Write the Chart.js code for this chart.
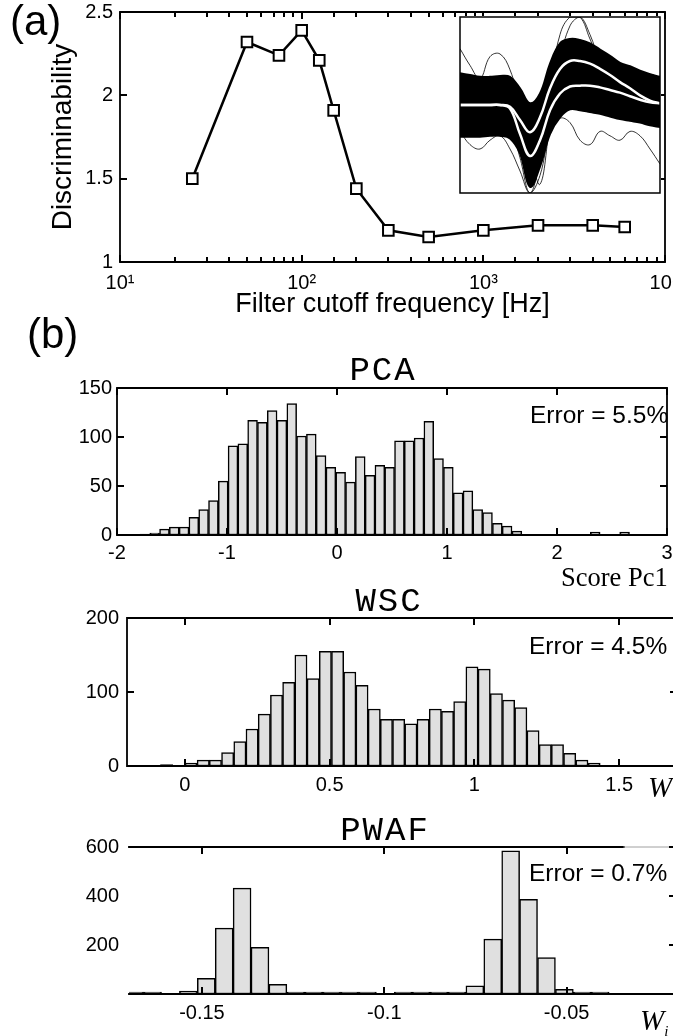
<!DOCTYPE html>
<html>
<head>
<meta charset="utf-8">
<script src="https://cdn.jsdelivr.net/npm/chart.js@4.4.0/dist/chart.umd.min.js"></script>
<style>
  html, body { margin: 0; padding: 0; width: 673px; height: 1036px; overflow: hidden; background: #fff; }
  canvas { position: absolute; }
  .txt { position: absolute; white-space: nowrap; color: #000; line-height: 1; font-family: 'Liberation Sans', Arial, sans-serif; }
  .ttl { font-family: 'Liberation Mono', 'Courier New', monospace; font-size: 34px; letter-spacing: 2px; transform: translateX(-50%); }
  .err { font-size: 24.5px; }
  .serif { font-family: 'Liberation Serif', 'Times New Roman', serif; }
  .wi { font-family: 'Liberation Serif', 'Times New Roman', serif; font-style: italic; font-size: 29px; }
  .wi sub { font-size: 15px; vertical-align: -6px; }
</style>
</head>
<body>
<canvas id="freqChart" width="700" height="330" style="left:0;top:0"></canvas>
<canvas id="insetChart" width="202" height="178" style="left:459px;top:16px;background:#fff"></canvas>
<canvas id="pcaChart" width="700" height="230" style="left:0;top:340px"></canvas>
<canvas id="wscChart" width="700" height="230" style="left:0;top:570px"></canvas>
<canvas id="pwafChart" width="700" height="236" style="left:0;top:800px"></canvas>

<div class="txt" style="left:10px;top:0px;font-size:42px">(a)</div>
<div class="txt" style="left:27px;top:313px;font-size:42px">(b)</div>
<div class="txt ttl" style="left:383px;top:354px">PCA</div>
<div class="txt ttl" style="left:389px;top:585px">WSC</div>
<div class="txt ttl" style="left:385px;top:814px">PWAF</div>
<div class="txt err" style="left:530px;top:403px">Error = 5.5%</div>
<div class="txt err" style="left:529px;top:634px">Error = 4.5%</div>
<div class="txt err" style="left:529px;top:861px">Error = 0.7%</div>
<div class="txt serif" style="left:561px;top:564px;font-size:26.5px">Score Pc1</div>
<div class="txt wi" style="left:648px;top:773px">W<sub>i</sub></div>
<div class="txt wi" style="left:640px;top:1006px">W<sub>i</sub></div>

<script>
// (a) discriminability against filter cutoff
const cutoffHz = [25, 50, 75, 100, 125, 150, 200, 300, 500, 1000, 2000, 4000, 6000];
const discrim = [1.50, 2.32, 2.24, 2.39, 2.21, 1.91, 1.44, 1.19, 1.15, 1.19, 1.22, 1.22, 1.21];
const discrimTicks = [1, 1.5, 2, 2.5];
const discrimTickLabels = ['1', '1.5', '2', '2.5'];
const freqTickValues = [10, 100, 1000, 10000];
const freqTickLabels = ['10\u00b9', '10\u00b2', '10\u00b3', '10\u2074'];

// inset: spike waveforms (band edges, two mean shapes, a few outlier traces)
const insetSamples = [0, 1, 2, 3, 4, 5, 6, 7, 8, 9, 10, 11, 12, 13, 14, 15, 16, 17, 18, 19, 20];
const spikeUpper = [0.36, 0.34, 0.32, 0.32, 0.33, 0.32, 0.19, 0.02, 0.13, 0.47, 0.70, 0.75, 0.74, 0.70, 0.63, 0.56, 0.48, 0.44, 0.39, 0.35, 0.32];
const spikeLower = [-0.36, -0.36, -0.36, -0.35, -0.35, -0.38, -0.55, -0.93, -0.70, -0.33, -0.14, -0.05, -0.06, -0.08, -0.10, -0.13, -0.16, -0.18, -0.20, -0.23, -0.25];
const meanA = [0, 0, 0, 0, 0, -0.02, -0.17, -0.31, -0.14, 0.19, 0.41, 0.50, 0.50, 0.47, 0.41, 0.34, 0.26, 0.19, 0.11, 0.05, 0.02];
const meanB = [0, 0, 0, 0, 0, -0.04, -0.33, -0.58, -0.40, -0.06, 0.13, 0.21, 0.22, 0.22, 0.20, 0.17, 0.14, 0.10, 0.06, 0.03, 0.02];
const spikeOutHigh = [0.15, 0.2, 0.15, 0.1, 0.05, -0.2, -0.6, -1.0, -0.6, 0.2, 0.8, 1.0, 1.0, 0.75, 0.5, 0.4, 0.35, 0.3, 0.25, 0.2, 0.15];
const spikeOutLeft = [0.64, 0.45, 0.3, 0.55, 0.58, 0.4, 0.0, -0.5, -0.9, -0.2, 0.5, 0.9, 1.0, 0.8, 0.5, 0.35, 0.3, 0.28, 0.3, 0.35, 0.3];
const spikeOutLow = [-0.3, -0.45, -0.5, -0.4, -0.35, -0.5, -0.75, -1.0, -0.8, -0.3, -0.15, -0.2, -0.4, -0.45, -0.3, -0.35, -0.4, -0.3, -0.35, -0.5, -0.67];

// (b) PCA histogram
const pcaBinCenters = [-1.7465, -1.6575, -1.5685, -1.4795, -1.3905, -1.3015, -1.2125, -1.1235, -1.0345, -0.9455,
  -0.8565, -0.7675, -0.6785, -0.5895, -0.5005, -0.4115, -0.3225, -0.2335, -0.1445, -0.0555,
  0.0335, 0.1225, 0.2115, 0.3005, 0.3895, 0.4785, 0.5675, 0.6565, 0.7455, 0.8345,
  0.9235, 1.0125, 1.1015, 1.1905, 1.2795, 1.3685, 1.4575, 1.5465, 1.6355, 1.7245,
  1.8135, 1.9025, 1.9915, 2.0805, 2.1695, 2.2585, 2.3475, 2.4365, 2.5255, 2.6145];
const pcaCounts = [1, 2, 6, 8, 8, 18, 26, 35, 55, 91,
  93, 117, 115, 127, 117, 134, 101, 103, 81, 69,
  64, 54, 80, 61, 71, 69, 96, 96, 99, 116,
  78, 69, 43, 45, 26, 23, 12, 9, 4, 0,
  0, 0, 0, 0, 0, 0, 3, 0, 0, 3];
const pcaXTicks = [-2, -1, 0, 1, 2, 3];
const pcaXLabels = ['-2', '-1', '0', '1', '2', '3'];
const pcaYTicks = [0, 50, 100, 150];
const pcaYLabels = ['0', '50', '100', '150'];

// WSC histogram
const wscBinCenters = [-0.0633, -0.0211, 0.0211, 0.0633, 0.1055, 0.1477, 0.1899, 0.2321, 0.2743, 0.3165,
  0.3587, 0.4009, 0.4431, 0.4853, 0.5275, 0.5697, 0.6119, 0.6541, 0.6963, 0.7385,
  0.7807, 0.8229, 0.8651, 0.9073, 0.9495, 0.9917, 1.0339, 1.0761, 1.1183, 1.1605,
  1.2027, 1.2449, 1.2871, 1.3293, 1.3715, 1.4137, 1.4559, 1.4981];
const wscCounts = [2, 0, 4, 8, 8, 18, 33, 50, 70, 96,
  113, 150, 118, 155, 155, 127, 109, 77, 63, 63,
  57, 63, 77, 74, 87, 134, 131, 98, 89, 79,
  48, 29, 29, 17, 8, 4, 1, 1];
const wscXTicks = [0, 0.5, 1, 1.5];
const wscXLabels = ['0', '0.5', '1', '1.5'];
const wscYTicks = [0, 100, 200];
const wscYLabels = ['0', '100', '200'];

// PWAF histogram
const pwafBinCenters = [-0.16845, -0.16354, -0.15863, -0.15372, -0.14881, -0.14390, -0.13899, -0.13408, -0.12917,
  -0.12426, -0.11935, -0.11444, -0.10953, -0.10462, -0.09971, -0.09480, -0.08989, -0.08498,
  -0.08007, -0.07516, -0.07025, -0.06534, -0.06043, -0.05552, -0.05061, -0.04570, -0.04079];
const pwafCounts = [1, 1, null, 12, 64, 269, 432, 190, 39,
  1, 1, 1, 1, 1, null, 1, 1, 1,
  1, 33, 224, 584, 386, 149, 19, 1, 1];
const pwafXTicks = [-0.15, -0.1, -0.05];
const pwafXLabels = ['-0.15', '-0.1', '-0.05'];
const pwafYTicks = [0, 200, 400, 600];
const pwafYLabels = ['', '200', '400', '600'];

Chart.defaults.font.family = "'Liberation Sans', Arial, sans-serif";
Chart.defaults.font.size = 20;
Chart.defaults.color = '#000';

// frame and inward tick marks, matlab style; settings kept in the closure
function axesBox(o) {
    return {
        id: 'axesBox',
        afterDraw(chart) {
            const { ctx, chartArea: a } = chart;
            const xs = chart.scales.x, ys = chart.scales.y;
            ctx.save();
            ctx.strokeStyle = '#000';
            ctx.lineWidth = o.width;
            ctx.lineCap = 'square';
            const topEnd = o.topSplit !== undefined ? xs.getPixelForValue(o.topSplit) : a.right;
            ctx.beginPath();
            if (o.bottom) { ctx.moveTo(a.left, a.bottom); ctx.lineTo(a.right, a.bottom); }
            if (o.left) { ctx.moveTo(a.left, a.top); ctx.lineTo(a.left, a.bottom); }
            if (o.right) { ctx.moveTo(a.right, a.top); ctx.lineTo(a.right, a.bottom); }
            if (o.top) { ctx.moveTo(a.left, a.top); ctx.lineTo(topEnd, a.top); }
            ctx.stroke();
            if (o.top && topEnd < a.right) {
                ctx.strokeStyle = '#a0a0a0';
                ctx.lineWidth = 1;
                ctx.beginPath();
                ctx.moveTo(topEnd, a.top);
                ctx.lineTo(a.right, a.top);
                ctx.stroke();
                ctx.strokeStyle = '#000';
            }
            if (!o.len) { ctx.restore(); return; }
            ctx.lineWidth = 2;
            ctx.lineCap = 'butt';
            ctx.beginPath();
            xs.ticks.forEach(t => {
                const px = Math.round(xs.getPixelForValue(t.value));
                let len = o.len;
                if (o.logMinor) {
                    const e = Math.log10(t.value);
                    if (Math.abs(e - Math.round(e)) > 1e-6) len = o.minorLen;
                }
                if (o.xTop) { ctx.moveTo(px, a.top); ctx.lineTo(px, a.top + len); }
                if (o.xBottom) { ctx.moveTo(px, a.bottom); ctx.lineTo(px, a.bottom - len); }
            });
            ys.ticks.forEach(t => {
                const py = Math.round(ys.getPixelForValue(t.value));
                if (o.yLeft) { ctx.moveTo(a.left, py); ctx.lineTo(a.left + o.len, py); }
                if (o.yRight) { ctx.moveTo(a.right, py); ctx.lineTo(a.right - o.len, py); }
            });
            ctx.stroke();
            ctx.restore();
        }
    };
}

function fixWidth(w) {
    return s => { s.width = w; s.paddingTop = 0; s.paddingBottom = 0; };
}
function fixHeight(h) {
    return s => { s.height = h; s.paddingLeft = 0; s.paddingRight = 0; };
}

// (a) main line chart
new Chart(document.getElementById('freqChart'), {
    type: 'line',
    data: {
        datasets: [{
            data: cutoffHz.map((f, i) => ({ x: f, y: discrim[i] })),
            borderColor: '#000',
            borderWidth: 2.5,
            pointStyle: 'rect',
            pointRadius: 7.5,
            pointBorderWidth: 2,
            pointBorderColor: '#000',
            pointBackgroundColor: '#fff',
            tension: 0
        }]
    },
    options: {
        responsive: false, animation: false, events: [],
        layout: { padding: { left: 0, top: 12, right: 35, bottom: 0 } },
        plugins: { legend: { display: false }, tooltip: { enabled: false } },
        scales: {
            x: {
                type: 'logarithmic', min: 10, max: 10000,
                grid: { display: false, drawTicks: false }, border: { display: false },
                afterFit: fixHeight(68),
                ticks: {
                    autoSkip: false, maxRotation: 0, padding: 9,
                    callback: v => {
                        const i = freqTickValues.indexOf(v);
                        return i >= 0 ? freqTickLabels[i] : '';
                    }
                },
                title: { display: true, text: 'Filter cutoff frequency [Hz]',
                    font: { size: 27, lineHeight: 1 }, padding: { top: 0, bottom: 11.5 } }
            },
            y: {
                min: 1, max: 2.5,
                grid: { display: false, drawTicks: false }, border: { display: false },
                afterBuildTicks: s => { s.ticks = discrimTicks.map(v => ({ value: v })); },
                afterFit: fixWidth(120),
                ticks: { autoSkip: false, padding: 7, callback: (v, i) => discrimTickLabels[i] },
                title: { display: true, text: 'Discriminability',
                    font: { size: 28, lineHeight: 1 }, padding: { top: 49, bottom: 0 } }
            }
        }
    },
    plugins: [axesBox({ width: 1.8, top: true, bottom: true, left: true, right: true,
        xTop: true, xBottom: true, yLeft: true, yRight: true, len: 7, minorLen: 5, logMinor: true })]
});

// inset waveforms
const thin = { borderColor: '#000', borderWidth: 0.8, order: 3 };
new Chart(document.getElementById('insetChart'), {
    type: 'line',
    data: {
        labels: insetSamples,
        datasets: [
            { data: meanA, borderColor: '#fff', borderWidth: 2.5, order: 0 },
            { data: meanB, borderColor: '#fff', borderWidth: 2.5, order: 0 },
            { data: spikeUpper, borderColor: '#000', borderWidth: 2, backgroundColor: '#000', fill: '+1', order: 1 },
            { data: spikeLower, borderColor: '#000', borderWidth: 2, order: 1 },
            { data: spikeOutHigh, ...thin },
            { data: spikeOutLeft, ...thin },
            { data: spikeOutLow, ...thin }
        ]
    },
    options: {
        responsive: false, animation: false, events: [],
        layout: { padding: 1 },
        elements: { point: { radius: 0 }, line: { tension: 0.4 } },
        datasets: { line: { clip: 0 } },
        plugins: { legend: { display: false }, tooltip: { enabled: false } },
        scales: {
            x: { display: false, offset: false },
            y: { display: false, min: -1, max: 1 }
        }
    },
    plugins: [axesBox({ width: 1.5, top: true, bottom: true, left: true, right: true, len: 0 })]
});

// histograms
function histogram(id, centers, counts, cfg) {
    return new Chart(document.getElementById(id), {
        type: 'bar',
        data: {
            datasets: [{
                data: centers.map((c, i) => ({ x: c, y: counts[i] })),
                backgroundColor: '#e0e0e0',
                borderColor: '#000',
                borderWidth: 1.5,
                borderSkipped: false,
                barPercentage: 1,
                categoryPercentage: 1,
                minBarLength: cfg.minBar || 0
            }]
        },
        options: {
            responsive: false, animation: false, events: [],
            layout: { padding: cfg.pad },
            plugins: { legend: { display: false }, tooltip: { enabled: false } },
            scales: {
                x: {
                    type: 'linear', min: cfg.xMin, max: cfg.xMax, offset: false,
                    grid: { display: false, drawTicks: false }, border: { display: false },
                    afterBuildTicks: s => { s.ticks = cfg.xTicks.map(v => ({ value: v })); },
                    afterFit: fixHeight(cfg.xH),
                    ticks: { autoSkip: false, maxRotation: 0, padding: cfg.xPad, callback: (v, i) => cfg.xLabels[i] }
                },
                y: {
                    min: cfg.yMin, max: cfg.yMax,
                    grid: { display: false, drawTicks: false }, border: { display: false },
                    afterBuildTicks: s => { s.ticks = cfg.yTicks.map(v => ({ value: v })); },
                    afterFit: fixWidth(cfg.yW),
                    ticks: { autoSkip: false, padding: cfg.yPad, callback: (v, i) => cfg.yLabels[i] }
                }
            }
        },
        plugins: [axesBox(cfg.box)]
    });
}

histogram('pcaChart', pcaBinCenters, pcaCounts, {
    pad: { left: 0, top: 48, right: 33, bottom: 0 },
    xMin: -2, xMax: 3, xTicks: pcaXTicks, xLabels: pcaXLabels, xH: 35, xPad: 6,
    yMin: 0, yMax: 150, yTicks: pcaYTicks, yLabels: pcaYLabels, yW: 117, yPad: 5,
    box: { width: 1.8, top: true, bottom: true, left: true, right: true,
        xTop: true, xBottom: true, yLeft: true, yRight: true, len: 7 }
});

histogram('wscChart', wscBinCenters, wscCounts, {
    pad: { left: 0, top: 48, right: 23, bottom: 0 },
    xMin: -0.2, xMax: 1.7, xTicks: wscXTicks, xLabels: wscXLabels, xH: 34, xPad: 7,
    yMin: 0, yMax: 200, yTicks: wscYTicks, yLabels: wscYLabels, yW: 127, yPad: 8,
    box: { width: 1.8, top: true, bottom: true, left: true, right: true,
        xTop: true, xBottom: true, yLeft: true, yRight: true, len: 7 }
});

histogram('pwafChart', pwafBinCenters, pwafCounts, {
    pad: { left: 0, top: 47, right: 24, bottom: 0 },
    xMin: -0.17, xMax: -0.02, xTicks: pwafXTicks, xLabels: pwafXLabels, xH: 42, xPad: 7,
    yMin: 0, yMax: 600, yTicks: pwafYTicks, yLabels: pwafYLabels, yW: 129, yPad: 10,
    minBar: 2,
    box: { width: 1.8, top: true, bottom: true, left: false, right: true, topSplit: -0.0343,
        xTop: true, xBottom: true, yLeft: false, yRight: true, len: 7 }
});
</script>
</body>
</html>
